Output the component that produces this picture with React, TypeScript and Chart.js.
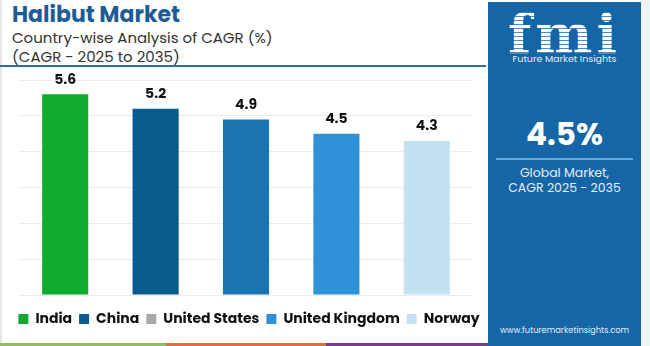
import React, { useEffect, useRef } from "react";
import { Chart, registerables } from "chart.js";

Chart.register(...registerables);

const categories = ["India", "China", "United States", "United Kingdom", "Norway"];
const cagrValues = [5.6, 5.2, 4.9, 4.5, 4.3];
const barColors = ["#0fab2e", "#0a5a8e", "#1b73af", "#2f92d7", "#c4e1f4"];
const legendColors = ["#12a830", "#0b5b93", "#a8a8a8", "#2f8fd6", "#c4e1f4"];
const yTicks = [0, 1, 2, 3, 4, 5, 6];

const FONT = "Poppins, 'Open Sans', Inter, sans-serif";

const valueLabels = {
  id: "valueLabels",
  afterDatasetsDraw(chart: any) {
    const ctx = chart.ctx;
    const meta = chart.getDatasetMeta(0);
    ctx.save();
    ctx.font = `bold 14px ${FONT}`;
    ctx.fillStyle = "#111111";
    ctx.textAlign = "center";
    ctx.textBaseline = "bottom";
    meta.data.forEach((bar: any, i: number) => {
      ctx.fillText(cagrValues[i].toFixed(1), bar.x, bar.y - 7);
    });
    ctx.restore();
  },
};

export default function App() {
  const canvasRef = useRef<HTMLCanvasElement | null>(null);

  useEffect(() => {
    if (!canvasRef.current) return;
    const chart = new Chart(canvasRef.current, {
      type: "bar",
      data: {
        labels: categories,
        datasets: [
          {
            data: cagrValues,
            backgroundColor: barColors,
            borderWidth: 0,
            categoryPercentage: 1,
            barPercentage: 0.51,
          },
        ],
      },
      options: {
        animation: false,
        responsive: false,
        maintainAspectRatio: false,
        layout: { padding: { left: 10, right: 0, top: 10, bottom: 0 } },
        scales: {
          x: {
            display: true,
            ticks: { display: false },
            grid: { display: false, drawTicks: false },
            border: { display: false },
            afterFit: (scale: any) => {
              scale.height = 10;
            },
          },
          y: {
            position: "left",
            min: yTicks[0],
            max: yTicks[yTicks.length - 1],
            ticks: { display: false, stepSize: 1 },
            grid: { color: "#ececec", drawTicks: false, lineWidth: 1 },
            border: { display: false },
            afterFit: (scale: any) => {
              scale.width = 10;
            },
          },
          yRight: {
            position: "right",
            min: yTicks[0],
            max: yTicks[yTicks.length - 1],
            ticks: { display: false },
            grid: { display: false, drawTicks: false },
            border: { display: false },
            afterFit: (scale: any) => {
              scale.width = 16;
            },
          },
        },
        plugins: {
          tooltip: { enabled: false },
          legend: {
            position: "bottom",
            labels: {
              boxWidth: 10,
              boxHeight: 10,
              padding: 7,
              color: "#111111",
              font: { size: 14, weight: "bold", family: FONT },
              generateLabels: () =>
                categories.map((c, i) => ({
                  text: c,
                  fillStyle: legendColors[i],
                  strokeStyle: legendColors[i],
                  lineWidth: 0,
                  hidden: false,
                  index: i,
                  fontColor: "#111111",
                })),
            },
          },
        },
      },
      plugins: [valueLabels],
    });
    return () => chart.destroy();
  }, []);

  return (
    <div
      style={{
        position: "fixed",
        left: 0,
        top: 0,
        width: 650,
        height: 346,
        background: "#ffffff",
        overflow: "hidden",
        fontFamily: FONT,
      }}
    >
      <div style={{ position: "absolute", left: 0, top: 0, width: 2, height: 346, background: "#e6e6e6" }} />
      <div
        style={{
          position: "absolute",
          left: 12,
          top: 1,
          fontSize: 22,
          fontWeight: 700,
          color: "#1d5c96",
          lineHeight: "28px",
          whiteSpace: "nowrap",
        }}
      >
        Halibut Market
      </div>
      <div
        style={{
          position: "absolute",
          left: 12,
          top: 28,
          fontSize: 15,
          color: "#333333",
          lineHeight: "19px",
          whiteSpace: "nowrap",
        }}
      >
        Country-wise Analysis of CAGR (%)
        <br />
        (CAGR - 2025 to 2035)
      </div>
      <div style={{ position: "absolute", left: 0, top: 65, width: 486, height: 2, background: "#2b6fa6" }} />

      <canvas
        ref={canvasRef}
        width={488}
        height={266}
        style={{ position: "absolute", left: 0, top: 70, width: 488, height: 266 }}
      />

      <div style={{ position: "absolute", left: 0, top: 343, width: 166, height: 3, background: "#8dc15a" }} />
      <div style={{ position: "absolute", left: 166, top: 343, width: 160, height: 3, background: "#e0703a" }} />
      <div style={{ position: "absolute", left: 326, top: 343, width: 162, height: 3, background: "#7b3a96" }} />

      <div style={{ position: "absolute", left: 641, top: 0, width: 9, height: 346, background: "#f3f3f3" }} />
      <div
        style={{
          position: "absolute",
          left: 488,
          top: 2,
          width: 153,
          height: 344,
          background: "#1565a7",
          color: "#ffffff",
          overflow: "hidden",
        }}
      >
        <div
          style={{
            position: "absolute",
            left: 0,
            width: 153,
            top: 3,
            textAlign: "center",
            fontFamily: "'DejaVu Serif', serif",
            fontWeight: 700,
            fontSize: 54,
            lineHeight: "58px",
            letterSpacing: 4,
            backgroundImage:
              "repeating-linear-gradient(180deg, #ffffff 0px, #ffffff 3px, rgba(255,255,255,0.25) 3px, rgba(255,255,255,0.25) 4px)",
            WebkitBackgroundClip: "text",
            backgroundClip: "text",
            WebkitTextFillColor: "transparent",
          } as React.CSSProperties}
        >
          fmi
        </div>
        <div
          style={{
            position: "absolute",
            left: 0,
            width: 153,
            top: 51,
            textAlign: "center",
            fontSize: 9.5,
            lineHeight: "12px",
            color: "#e8eef6",
            whiteSpace: "nowrap",
          }}
        >
          Future Market Insights
        </div>
        <div
          style={{
            position: "absolute",
            left: 0,
            width: 153,
            top: 113,
            textAlign: "center",
            fontSize: 31,
            fontWeight: 700,
            lineHeight: "38px",
          }}
        >
          4.5%
        </div>
        <div style={{ position: "absolute", left: 8, top: 156, width: 137, height: 2, background: "#6aa9dd" }} />
        <div
          style={{
            position: "absolute",
            left: 0,
            width: 153,
            top: 163,
            textAlign: "center",
            fontSize: 12.5,
            lineHeight: "15px",
            color: "#e6eef7",
          }}
        >
          Global Market,
          <br />
          CAGR 2025 - 2035
        </div>
        <div
          style={{
            position: "absolute",
            left: 0,
            width: 153,
            top: 322,
            textAlign: "center",
            fontSize: 8.3,
            lineHeight: "12px",
            color: "#e6eef7",
            whiteSpace: "nowrap",
          }}
        >
          www.futuremarketinsights.com
        </div>
      </div>
    </div>
  );
}
